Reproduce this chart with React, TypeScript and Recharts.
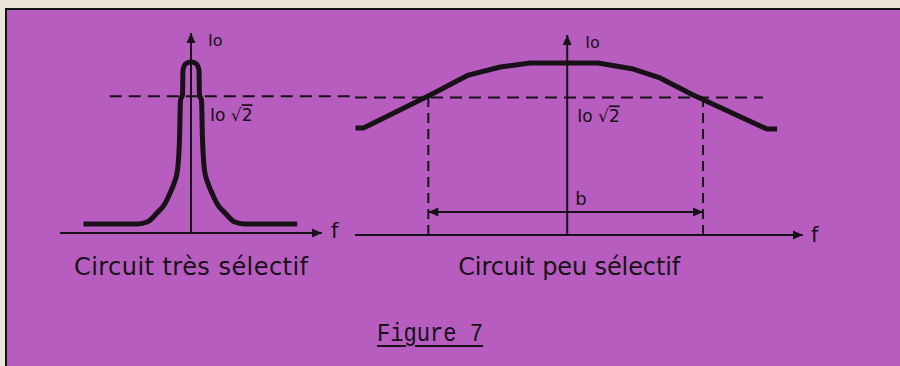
import React from 'react';
import { LineChart, Line, XAxis, YAxis, ReferenceLine, ReferenceDot } from 'recharts';

// left panel: relative frequency vs I / Io, very selective circuit
const sharpFreq = [-0.82, -0.41, -0.33, -0.26, -0.2, -0.16, -0.125, -0.103, -0.088, -0.08, -0.065, -0.061, -0.04, 0, 0.04, 0.061, 0.065, 0.08, 0.088, 0.103, 0.125, 0.16, 0.2, 0.26, 0.33, 0.41, 0.81];
const sharpCurrent = [0.053, 0.053, 0.066, 0.117, 0.17, 0.234, 0.3, 0.368, 0.544, 0.778, 0.807, 0.953, 0.99, 1.0, 0.99, 0.953, 0.807, 0.778, 0.544, 0.368, 0.3, 0.234, 0.17, 0.117, 0.066, 0.053, 0.053];

// right panel: weakly selective circuit
const broadFreq = [-0.898, -0.864, -0.581, -0.419, -0.284, -0.157, 0.131, 0.28, 0.394, 0.534, 0.847, 0.89];
const broadCurrent = [0.622, 0.622, 0.814, 0.93, 0.977, 1.0, 1.0, 0.965, 0.913, 0.814, 0.616, 0.616];

const halfLevel = 0.8; // the "Io/√2" dashed line
const broadCuts = [-0.589, 0.576]; // band edges
const bandLevel = 0.134; // the "b" arrow

const sharpTitle = 'Circuit très sélectif';
const broadTitle = 'Circuit peu sélectif';
const figureTitle = 'Figure 7';

const INK = '#181118';
const PAGE = '#b65dbf';
const FONT = '"DejaVu Sans", sans-serif';

const sharpData = sharpFreq.map((f, k) => ({ f, i: sharpCurrent[k] }));
const broadData = broadFreq.map((f, k) => ({ f, i: broadCurrent[k] }));

function head(tx: number, ty: number, fx: number, fy: number, size = 10) {
  const a = Math.atan2(ty - fy, tx - fx);
  const w = size * 0.45;
  const bx = tx - size * Math.cos(a);
  const by = ty - size * Math.sin(a);
  const px = -Math.sin(a) * w;
  const py = Math.cos(a) * w;
  return `${tx},${ty} ${bx + px},${by + py} ${bx - px},${by - py}`;
}

function ArrowLine({ x1, y1, x2, y2, both }: any) {
  return (
    <g>
      <line x1={x1} y1={y1} x2={x2} y2={y2} stroke={INK} strokeWidth={2} />
      <polygon points={head(x2, y2, x1, y1)} fill={INK} />
      {both && <polygon points={head(x1, y1, x2, y2)} fill={INK} />}
    </g>
  );
}

const textAt =
  (text: string, dx: number, dy: number, size: number, extra: any = {}) =>
  (p: any) =>
    (
      <text x={p.cx + dx} y={p.cy + dy} fontSize={size} fontFamily={FONT} fill={INK} {...extra}>
        {text}
      </text>
    );

const rootAt = (dx: number, dy: number) => (p: any) =>
  (
    <text x={p.cx + dx} y={p.cy + dy} fontSize={17} fontFamily={FONT} fill={INK}>
      Io <tspan>√</tspan>
      <tspan style={{ textDecoration: 'overline' }}>2</tspan>
    </text>
  );

const dashStyle = { stroke: INK, strokeWidth: 2, strokeDasharray: '12 7' };

export default function App() {
  return (
    <div style={{ position: 'absolute', left: 0, top: 0, width: 900, height: 366, overflow: 'hidden', background: '#ece5da' }}>
      <div
        style={{
          position: 'absolute',
          left: 5,
          top: 8,
          width: 900,
          height: 366,
          background: PAGE,
          borderLeft: '2px solid #111',
          borderTop: '2px solid #111',
        }}
      />

      {/* left panel */}
      <div style={{ position: 'absolute', left: 0, top: 0 }}>
        <LineChart width={900} height={366} data={sharpData} margin={{ top: 33, right: 578, bottom: 133, left: 60 }}>
          <XAxis type="number" dataKey="f" domain={[-1, 1]} hide />
          <YAxis type="number" domain={[0, 1.17]} hide />
          <ReferenceLine
            segment={[{ x: -0.62, y: halfLevel }, { x: 1.25, y: halfLevel }]}
            ifOverflow="visible"
            {...dashStyle}
          />
          <ReferenceLine segment={[{ x: 0, y: 0 }, { x: 0, y: 1.17 }]} shape={(p: any) => <ArrowLine {...p} />} />
          <ReferenceLine segment={[{ x: -1, y: 0 }, { x: 1, y: 0 }]} shape={(p: any) => <ArrowLine {...p} />} />
          <Line
            type="monotone"
            dataKey="i"
            stroke={INK}
            strokeWidth={5}
            strokeLinejoin="round"
            dot={false}
            isAnimationActive={false}
          />
          <ReferenceDot x={0} y={1.17} shape={textAt('Io', 17, 13, 16)} />
          <ReferenceDot x={0} y={halfLevel} shape={rootAt(19, 25)} />
          <ReferenceDot x={1} y={0} shape={textAt('f', 9, 5, 21)} />
          <ReferenceDot
            x={0}
            y={0}
            shape={textAt(sharpTitle, 0, 42, 24, { textAnchor: 'middle', textLength: 234, lengthAdjust: 'spacing' })}
          />
        </LineChart>
      </div>

      {/* right panel */}
      <div style={{ position: 'absolute', left: 0, top: 0 }}>
        <LineChart width={900} height={366} data={broadData} margin={{ top: 35, right: 97, bottom: 131, left: 355 }}>
          <XAxis type="number" dataKey="f" domain={[-0.9, 1]} hide />
          <YAxis type="number" domain={[0, 1.163]} hide />
          <ReferenceLine
            segment={[{ x: -0.9, y: halfLevel }, { x: 0.83, y: halfLevel }]}
            ifOverflow="visible"
            {...dashStyle}
          />
          {broadCuts.map((c) => (
            <ReferenceLine
              key={c}
              segment={[{ x: c, y: 0 }, { x: c, y: halfLevel }]}
              stroke={INK}
              strokeWidth={2}
              strokeDasharray="10 6"
            />
          ))}
          <ReferenceLine
            segment={[{ x: broadCuts[0], y: bandLevel }, { x: broadCuts[1], y: bandLevel }]}
            shape={(p: any) => <ArrowLine {...p} both />}
          />
          <ReferenceLine segment={[{ x: 0, y: 0 }, { x: 0, y: 1.163 }]} shape={(p: any) => <ArrowLine {...p} />} />
          <ReferenceLine segment={[{ x: -0.9, y: 0 }, { x: 1, y: 0 }]} shape={(p: any) => <ArrowLine {...p} />} />
          <Line
            type="linear"
            dataKey="i"
            stroke={INK}
            strokeWidth={5}
            strokeLinejoin="round"
            dot={false}
            isAnimationActive={false}
          />
          <ReferenceDot x={0} y={1.163} shape={textAt('Io', 18, 13, 16)} />
          <ReferenceDot x={0} y={halfLevel} shape={rootAt(10, 25)} />
          <ReferenceDot x={0} y={bandLevel} shape={textAt('b', 8, -7, 18)} />
          <ReferenceDot x={1} y={0} shape={textAt('f', 8, 7, 21)} />
          <ReferenceDot
            x={0}
            y={0}
            shape={textAt(broadTitle, 2, 40, 24, { textAnchor: 'middle', textLength: 222, lengthAdjust: 'spacing' })}
          />
        </LineChart>
      </div>

      <div
        style={{
          position: 'absolute',
          left: 377,
          top: 321,
          fontFamily: '"Liberation Mono", monospace',
          fontSize: 26,
          lineHeight: 1,
          color: INK,
          whiteSpace: 'nowrap',
          transform: 'scaleX(0.85)',
          transformOrigin: 'left top',
          textDecoration: 'underline',
          textDecorationThickness: '2px',
          textUnderlineOffset: '4px',
        }}
      >
        {figureTitle}
      </div>
    </div>
  );
}
